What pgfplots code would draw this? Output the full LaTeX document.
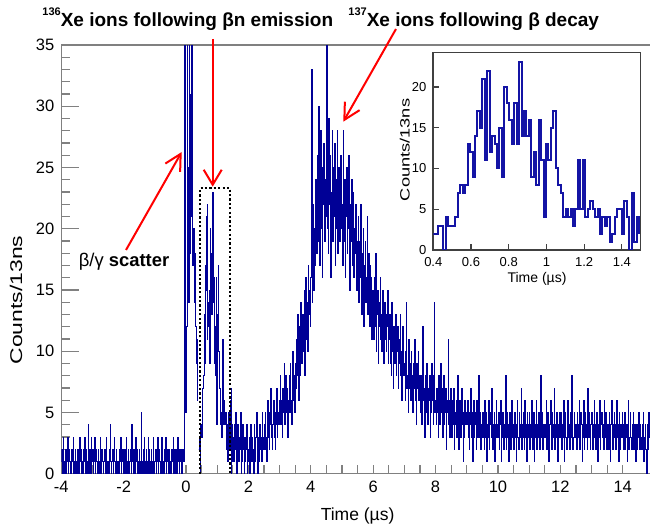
\documentclass[border=0pt]{standalone}
\usepackage{pgfplots}
\pgfplotsset{compat=1.18}
\usepackage{pgfplotstable}
\usepackage{fontspec}
\setmainfont{Liberation Sans}
\newfontfamily\stretchfont[FakeStretch=1.35]{Liberation Sans}
\usetikzlibrary{arrows.meta}

\definecolor{histblue}{RGB}{0,0,150}
\definecolor{insetblue}{RGB}{20,20,165}
\definecolor{axgray}{RGB}{128,128,128}

% counts per bin, -4.00 .. 0.38 us, 0.02 us steps
\pgfplotstableread[row sep=\\]{
y\\
1\\2\\0\\3\\1\\0\\1\\2\\0\\1\\3\\0\\2\\1\\0\\1\\0\\2\\1\\3\\0\\1\\2\\0\\1\\
0\\2\\1\\0\\3\\1\\2\\0\\1\\0\\2\\1\\3\\0\\1\\2\\0\\1\\4\\0\\2\\1\\0\\3\\1\\
2\\0\\1\\3\\0\\1\\2\\1\\0\\2\\1\\0\\3\\1\\0\\2\\1\\0\\1\\2\\0\\1\\3\\0\\1\\
1\\0\\2\\4\\1\\0\\1\\2\\0\\1\\3\\1\\0\\2\\1\\0\\1\\0\\2\\1\\3\\0\\1\\2\\0\\
0\\1\\2\\0\\3\\1\\0\\2\\1\\0\\1\\2\\0\\4\\1\\0\\2\\1\\0\\3\\1\\2\\0\\1\\0\\
2\\1\\0\\5\\1\\0\\2\\1\\3\\0\\1\\2\\0\\1\\3\\0\\2\\1\\0\\2\\1\\0\\3\\1\\0\\
1\\2\\0\\1\\3\\0\\1\\2\\1\\0\\2\\3\\0\\1\\0\\2\\1\\3\\0\\1\\2\\0\\1\\2\\0\\
1\\0\\2\\1\\3\\0\\1\\2\\0\\1\\2\\0\\3\\1\\0\\2\\1\\2\\0\\
2\\2\\1\\3\\40\\5\\9\\12\\40\\25\\14\\40\\18\\31\\21\\40\\22\\17\\20\\14\\18\\12\\9\\11\\6\\7\\
}\segA

% counts per 13 ns bin, 0.400 .. 1.492 us (also the inset)
\pgfplotstableread[row sep=\\]{
y\\
2\\2\\3\\3\\0\\4\\3\\3\\3\\4\\
7\\8\\7\\8\\13\\12\\9\\14\\17\\15\\
21\\11\\22\\12\\14\\13\\10\\15\\9\\20\\
18\\16\\13\\18\\13\\23\\14\\17\\14\\16\\
9\\12\\8\\16\\11\\4\\13\\11\\15\\17\\
10\\8\\7\\4\\5\\4\\5\\3\\5\\11\\
5\\11\\4\\5\\6\\5\\4\\5\\2\\4\\
3\\4\\1\\2\\4\\5\\5\\2\\6\\4\\
0\\7\\1\\4\\2\\
}\segB

% counts per bin, 1.50 .. 14.98 us, 0.02 us steps
\pgfplotstableread[row sep=\\]{
y\\
3\\1\\4\\2\\5\\3\\0\\2\\4\\1\\3\\2\\5\\0\\3\\1\\4\\2\\0\\3\\1\\2\\4\\0\\2\\
1\\3\\0\\2\\4\\1\\3\\2\\0\\4\\2\\1\\3\\5\\2\\0\\3\\1\\4\\2\\3\\1\\5\\2\\3\\
4\\2\\5\\3\\1\\4\\6\\3\\2\\5\\4\\7\\3\\2\\4\\6\\3\\5\\2\\4\\7\\3\\5\\4\\6\\
5\\8\\4\\6\\3\\7\\5\\9\\4\\6\\8\\5\\7\\3\\6\\8\\5\\9\\6\\4\\7\\10\\6\\8\\5\\
9\\7\\11\\8\\13\\6\\10\\12\\8\\14\\9\\11\\13\\10\\15\\8\\12\\16\\11\\14\\10\\17\\13\\15\\12\\
16\\33\\14\\19\\22\\15\\20\\17\\24\\18\\21\\26\\19\\30\\17\\23\\28\\20\\16\\25\\22\\27\\19\\24\\21\\
38\\20\\24\\18\\29\\22\\26\\16\\23\\28\\19\\25\\21\\27\\17\\24\\20\\28\\18\\22\\25\\19\\23\\26\\20\\
22\\17\\28\\19\\24\\16\\21\\25\\18\\23\\20\\26\\15\\22\\19\\24\\17\\21\\23\\16\\20\\18\\22\\15\\19\\
17\\21\\14\\19\\16\\22\\13\\18\\15\\20\\12\\17\\19\\14\\16\\21\\13\\15\\18\\12\\17\\14\\16\\11\\15\\
14\\11\\16\\12\\18\\10\\13\\15\\9\\14\\12\\16\\11\\13\\10\\15\\12\\9\\14\\11\\13\\10\\12\\15\\9\\
11\\13\\9\\12\\8\\14\\10\\7\\12\\9\\11\\13\\8\\10\\12\\7\\11\\9\\13\\8\\10\\6\\12\\9\\8\\
9\\6\\10\\14\\7\\8\\5\\11\\7\\9\\6\\10\\8\\5\\9\\7\\11\\6\\8\\4\\9\\7\\10\\6\\8\\
7\\5\\8\\4\\12\\6\\7\\3\\8\\6\\5\\9\\4\\7\\6\\8\\3\\7\\5\\9\\6\\4\\8\\14\\5\\
6\\4\\7\\5\\3\\8\\6\\4\\9\\5\\7\\3\\6\\8\\4\\5\\7\\2\\6\\5\\11\\4\\6\\3\\7\\
5\\3\\6\\4\\7\\2\\5\\4\\6\\3\\8\\5\\2\\4\\6\\3\\5\\7\\4\\1\\5\\3\\6\\4\\5\\
4\\6\\3\\5\\2\\4\\7\\3\\5\\1\\4\\6\\3\\5\\4\\2\\6\\3\\4\\8\\3\\5\\2\\4\\3\\
5\\3\\4\\2\\6\\3\\5\\1\\4\\3\\6\\2\\4\\5\\3\\7\\2\\4\\3\\5\\1\\4\\6\\3\\4\\
3\\5\\2\\4\\6\\1\\4\\3\\5\\2\\4\\3\\8\\2\\5\\3\\4\\1\\3\\5\\2\\4\\6\\3\\4\\
2\\4\\5\\3\\1\\4\\6\\3\\2\\5\\4\\3\\7\\2\\4\\3\\5\\2\\6\\3\\4\\1\\5\\3\\4\\
5\\2\\4\\3\\6\\4\\2\\5\\1\\3\\4\\6\\2\\4\\3\\5\\3\\2\\8\\4\\3\\5\\2\\4\\3\\
4\\3\\6\\2\\4\\5\\1\\3\\4\\6\\3\\2\\5\\4\\3\\7\\2\\4\\3\\5\\4\\1\\4\\3\\5\\
3\\5\\2\\4\\3\\6\\1\\4\\5\\3\\2\\4\\6\\3\\4\\2\\5\\3\\8\\4\\2\\3\\5\\4\\3\\
4\\2\\5\\3\\4\\6\\2\\3\\5\\4\\1\\3\\6\\2\\4\\5\\3\\4\\2\\7\\3\\5\\4\\2\\4\\
5\\3\\2\\4\\6\\3\\4\\2\\5\\3\\1\\4\\3\\6\\2\\4\\5\\3\\4\\2\\6\\3\\4\\5\\2\\
3\\4\\2\\5\\3\\1\\4\\6\\3\\2\\4\\5\\3\\4\\2\\6\\3\\4\\1\\5\\3\\2\\4\\3\\5\\
4\\2\\3\\5\\2\\4\\3\\1\\4\\6\\2\\3\\5\\3\\2\\4\\3\\5\\2\\4\\3\\1\\4\\2\\3\\
3\\5\\2\\4\\3\\2\\4\\3\\5\\1\\3\\4\\2\\0\\4\\3\\2\\5\\3\\4\\2\\3\\1\\4\\3\\
}\segC

\begin{document}
\begin{tikzpicture}
% main histogram
\begin{axis}[
    name=main,
    at={(30.65pt,-236.875pt)}, anchor=south west,
    scale only axis, width=296.3pt, height=214.375pt,
    xmin=-4, xmax=15, ymin=0, ymax=35,
    xtick={-4,-2,0,2,4,6,8,10,12,14}, minor x tick num=3,
    ytick={0,5,10,15,20,25,30,35}, minor y tick num=4,
    extra y ticks={0,5,10,15,20,25,30,35},
    extra y tick labels={},
    extra y tick style={major tick length=9pt},
    xtick pos=lower, ytick pos=left,
    tick align=inside,
    major tick length=4.5pt, minor tick length=4.5pt,
    axis line style={axgray, line width=0.6pt},
    tick style={axgray, line width=0.6pt},
    ticklabel style={font=\fontsize{8.25}{9.5}\selectfont},
    /pgf/number format/assume math mode=true,
    xlabel={Time (µs)},
    xlabel style={font=\fontsize{8.75}{10}\selectfont,
        at={(axis description cs:0.5,-0.098)}, anchor=center},
    ylabel={Counts/13ns},
    ylabel style={font=\stretchfont\fontsize{8.5}{10}\selectfont,
        at={(axis description cs:-0.0764,0.405)}, anchor=center},
]
\addplot[const plot, histblue, line width=0.45pt] table[x expr=-4+0.02*\coordindex, y index=0]{\segA};
\addplot[const plot, histblue, line width=0.45pt] table[x expr=0.4+0.013*\coordindex, y index=0]{\segB};
\addplot[const plot, histblue, line width=0.45pt] table[x expr=1.5+0.02*\coordindex, y index=0]{\segC};
\end{axis}

% inset
\begin{axis}[
    name=inset,
    at={(216.65pt,-125pt)}, anchor=south west,
    scale only axis, width=103.7pt, height=98.65pt,
    xmin=0.4, xmax=1.5, ymin=0, ymax=24.2,
    xtick={0.4,0.6,0.8,1,1.2,1.4}, ytick={0,5,10,15,20},
    xtick pos=lower, ytick pos=left, tick align=inside,
    major tick length=3pt,
    axis background/.style={fill=white},
    axis line style={black!75, line width=0.8pt},
    tick style={black!75, line width=0.6pt},
    ticklabel style={font=\fontsize{6.5}{7.5}\selectfont},
    /pgf/number format/assume math mode=true,
    xlabel={Time (µs)},
    xlabel style={font=\fontsize{7}{8}\selectfont,
        at={(axis description cs:0.5,-0.147)}, anchor=center},
    ylabel={Counts/13ns},
    ylabel style={font=\stretchfont\fontsize{6.75}{8}\selectfont,
        at={(axis description cs:-0.138,0.507)}, anchor=center},
]
\addplot[const plot, insetblue, line width=1pt] table[x expr=0.4+0.013*\coordindex, y index=0]{\segB};
\end{axis}

% annotations, in pixel units of the 650x529 picture
\begin{scope}[x=0.5pt, y=-0.5pt]
\draw[dash pattern=on 1.1pt off 1.1pt, line width=0.9pt] (200,473.75) -- (200,188.3) -- (230,188.3) -- (230,473.75);
\node[anchor=base west, inner sep=0, font=\bfseries\fontsize{9.5}{11}\selectfont] at (42,26.7)
    {\raisebox{5.8pt}{\fontsize{5.5}{6}\selectfont 136}Xe ions following βn emission};
\node[anchor=base west, inner sep=0, font=\bfseries\fontsize{9.5}{11}\selectfont] at (348,26.7)
    {\raisebox{5.8pt}{\fontsize{5.5}{6}\selectfont 137}Xe ions following β decay};
\node[anchor=center, inner sep=0, font=\fontsize{9.2}{11}\selectfont] at (124,262) {β/γ \textbf{scatter}};
\draw[red, line width=1pt, -{Straight Barb[length=8pt, width=8.5pt]}] (126,250) -- (181.7,152);
\draw[red, line width=1pt, -{Straight Barb[length=7.5pt, width=9pt]}] (212.7,39) -- (212.7,186.7);
\draw[red, line width=1pt, -{Straight Barb[length=8pt, width=8.5pt]}] (396,29) -- (343.3,121.7);
\end{scope}

\pgfresetboundingbox
\path[use as bounding box, x=0.5pt, y=-0.5pt] (0,0) rectangle (650,529);
\end{tikzpicture}
\end{document}
